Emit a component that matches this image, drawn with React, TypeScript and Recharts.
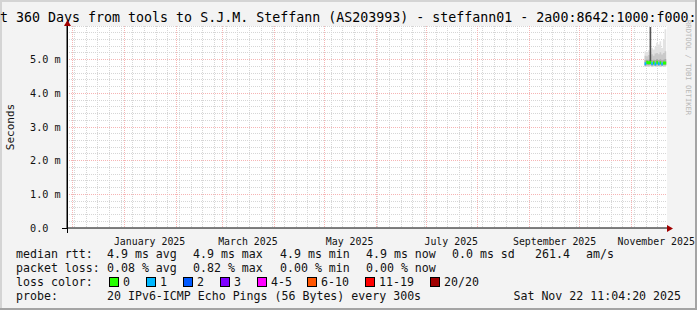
import React from 'react'
import { ComposedChart, Area, XAxis, YAxis, CartesianGrid } from 'recharts'

// graph window: last 360 days up to the render time
const START = Date.UTC(2024, 10, 27, 11, 4, 20)
const END = Date.UTC(2025, 10, 22, 11, 4, 20)

// daily samples (last row only closes the final step)
const days = [
  '2025-11-09', '2025-11-10', '2025-11-11', '2025-11-12', '2025-11-13', '2025-11-14', '2025-11-15',
  '2025-11-16', '2025-11-17', '2025-11-18', '2025-11-19', '2025-11-20', '2025-11-21', '2025-11-22',
]
const rttMin = [4.78, 4.79, 4.78, 4.8, 4.78, 4.79, 4.8, 4.78, 4.79, 4.78, 4.8, 4.78, 4.79, 4.79]
const rttMax = [5.25, 5.22, 5.28, 5.2, 5.35, 5.3, 5.38, 5.5, 5.45, 5.55, 5.35, 5.6, 5.9, 5.9]
const rttP10 = [4.8, 4.81, 4.8, 4.82, 4.8, 4.81, 4.81, 4.8, 4.81, 4.8, 4.81, 4.8, 4.81, 4.81]
const rttP90 = [5.12, 5.1, 5.14, 5.1, 5.16, 5.12, 5.18, 5.2, 5.16, 5.22, 5.15, 5.2, 5.25, 5.25]
const rttQ1 = [4.83, 4.84, 4.84, 4.85, 4.83, 4.84, 4.83, 4.84, 4.83, 4.84, 4.83, 4.84, 4.84, 4.84]
const rttQ3 = [4.98, 5.0, 5.0, 5.0, 4.98, 5.0, 4.99, 5.02, 4.99, 5.01, 4.98, 5.0, 5.02, 5.02]
const median = [4.88, 4.92, 4.91, 4.92, 4.88, 4.91, 4.87, 4.92, 4.88, 4.91, 4.87, 4.9, 4.9, 4.9]
const lossCount = [1, 0, 0, 0, 1, 0, 1, 0, 1, 0, 1, 0, 0, 0]
const spikeDay = '2025-11-12'
const spikeRange = [4.95, 5.97]

const labelDates = ['2025-01-16', '2025-03-16', '2025-05-16', '2025-07-16', '2025-09-16', '2025-11-16']
const labelNames = ['January 2025', 'March 2025', 'May 2025', 'July 2025', 'September 2025', 'November 2025']
const yTicks = [0, 1, 2, 3, 4, 5]
const yTickLabels = ['0.0', '1.0 m', '2.0 m', '3.0 m', '4.0 m', '5.0 m']

const lossColors = ['#26ff00', '#00b8ff', '#0059ff', '#7e00ff', '#ff00ff', '#ff5500', '#ff0000', '#a00000']
const lossNames = ['0', '1', '2', '3', '4-5', '6-10', '11-19', '20/20']

const ts = (d: string) => Date.parse(d + 'T00:00:00Z')

const data = days.map((d, i) => {
  const m = median[i]
  const band = (on: boolean) => (on ? [m - 0.045, m + 0.045] : [m, m])
  return {
    t: ts(d),
    outer: [rttMin[i], rttMax[i]],
    mid: [rttP10[i], rttP90[i]],
    inner: [rttQ1[i], rttQ3[i]],
    spike: d === spikeDay ? spikeRange : [m, m],
    loss0: band(lossCount[i] === 0),
    loss1: band(lossCount[i] === 1),
  }
})

// grid: minor every 0.2 ms / week, major every 1 ms / month
const minorY: number[] = []
for (let v = 1; v <= 30; v++) if (v % 5 !== 0 || v === 30) minorY.push(v / 5)
const majorY = [1, 2, 3, 4, 5]
const weeks: number[] = []
for (let t = Date.UTC(2024, 11, 2); t < END; t += 7 * 864e5) weeks.push(t)
const months: number[] = []
for (let m = 0; m < 12; m++) months.push(Date.UTC(2024, 11 + m, 1))

const MONO = '"DejaVu Sans Mono", monospace'

const XTick = (props: any) => {
  const i = labelDates.map(ts).indexOf(props.payload.value)
  return (
    <text x={props.x} y={props.y} dy={9} textAnchor="middle" fontFamily={MONO} fontSize={9.9} fill="#111">
      {labelNames[i]}
    </text>
  )
}

const YTick = (props: any) => {
  const i = yTicks.indexOf(props.payload.value)
  return (
    <text x={30} y={props.y} dominantBaseline="central" textAnchor="start" fontFamily={MONO} fontSize={10.2} fill="#111">
      {yTickLabels[i]}
    </text>
  )
}

const rows = [
  { y: 254, parts: [[16, 'median rtt:'], [107, '4.9 ms avg'], [193, '4.9 ms max'], [280, '4.9 ms min'], [366, '4.9 ms now'], [452, '0.0 ms sd'], [535, '261.4'], [586, 'am/s']] },
  { y: 268, parts: [[16, 'packet loss:'], [107, '0.08 % avg'], [193, '0.82 % max'], [280, '0.00 % min'], [366, '0.00 % now']] },
  { y: 282, parts: [[16, 'loss color:']] },
  { y: 296, parts: [[16, 'probe:'], [107, '20 IPv6-ICMP Echo Pings (56 Bytes) every 300s']] },
]
const boxX = [109, 146, 183, 220, 257, 307, 365, 430]

export default function App() {
  return (
    <div
      style={{
        position: 'absolute', left: 0, top: 0, width: 697, height: 310, overflow: 'hidden',
        background: '#f3f3f3', boxShadow: 'inset -2px -2px 0 #a4a4a4, inset 2px 2px 0 #d4d4d4',
      }}
    >
      <style>{'.recharts-cartesian-grid line{shape-rendering:crispEdges}'}</style>
      <ComposedChart width={697} height={310} data={data} margin={{ top: 26, right: 30, left: 0, bottom: 62 }}>
        <CartesianGrid
          fill="#ffffff" fillOpacity={1}
          horizontalValues={minorY} verticalValues={weeks}
          stroke="#d6d6d6" strokeDasharray="1 1"
        />
        <CartesianGrid
          horizontalValues={majorY} verticalValues={months}
          stroke="#f6b4b4" strokeDasharray="1 1"
        />
        <XAxis
          dataKey="t" type="number" domain={[START, END]} allowDataOverflow
          ticks={labelDates.map(ts)} interval={0} tick={<XTick />} tickLine={false}
          axisLine={{ stroke: '#000' }} height={20}
        />
        <YAxis
          type="number" domain={[0, 6]} allowDataOverflow ticks={yTicks} interval={0}
          tick={<YTick />} tickLine={false} axisLine={{ stroke: '#000' }} width={67}
        />
        <Area dataKey="outer" type="stepAfter" stroke="none" fill="#e2e2e2" fillOpacity={1} isAnimationActive={false} activeDot={false} />
        <Area dataKey="mid" type="stepAfter" stroke="none" fill="#c9c9c9" fillOpacity={1} isAnimationActive={false} activeDot={false} />
        <Area dataKey="inner" type="stepAfter" stroke="none" fill="#a8a8a8" fillOpacity={1} isAnimationActive={false} activeDot={false} />
        <Area dataKey="spike" type="stepAfter" stroke="none" fill="#555555" fillOpacity={1} isAnimationActive={false} activeDot={false} />
        <Area dataKey="loss0" type="stepAfter" stroke="none" fill={lossColors[0]} fillOpacity={1} isAnimationActive={false} activeDot={false} />
        <Area dataKey="loss1" type="stepAfter" stroke="none" fill={lossColors[1]} fillOpacity={1} isAnimationActive={false} activeDot={false} />
      </ComposedChart>
      <svg width={697} height={310} style={{ position: 'absolute', left: 0, top: 0, pointerEvents: 'none' }}>
        <text x={0} y={17} dominantBaseline="central" fontFamily={MONO} fontSize={13.3} fill="#000">
          t 360 Days from tools to S.J.M. Steffann (AS203993) - steffann01 - 2a00:8642:1000:f000:
        </text>
        <text transform="translate(10,127) rotate(-90)" textAnchor="middle" dominantBaseline="central" fontFamily={MONO} fontSize={11} fill="#111">
          Seconds
        </text>
        <text transform="translate(688,20) rotate(90)" textAnchor="start" dominantBaseline="central" fontFamily={MONO} fontSize={7.2} fill="#b8b8b8">
          RRDTOOL / TOBI OETIKER
        </text>
        {/* axis extensions and arrows */}
        <line x1={62} y1={228.5} x2={67} y2={228.5} stroke="#000" />
        <line x1={67.5} y1={22} x2={67.5} y2={233} stroke="#000" />
        <polygon points="64,26 71,26 67.5,20" fill="#a00000" />
        <polygon points="667,225 667,232 673,228.5" fill="#a00000" />
        {rows.map((r) =>
          r.parts.map(([x, s]) => (
            <text key={r.y + '-' + x} x={x as number} y={r.y} dominantBaseline="central" fontFamily={MONO} fontSize={11.6} fill="#111">
              {s}
            </text>
          )),
        )}
        {lossNames.map((n, i) => (
          <g key={n}>
            <rect x={boxX[i] + 0.5} y={277.5} width={9} height={9} fill={lossColors[i]} stroke="#000" />
            <text x={boxX[i] + 14} y={282} dominantBaseline="central" fontFamily={MONO} fontSize={11.6} fill="#111">
              {n}
            </text>
          </g>
        ))}
        <text x={681} y={296} textAnchor="end" dominantBaseline="central" fontFamily={MONO} fontSize={11.6} fill="#111">
          Sat Nov 22 11:04:20 2025
        </text>
      </svg>
    </div>
  )
}
